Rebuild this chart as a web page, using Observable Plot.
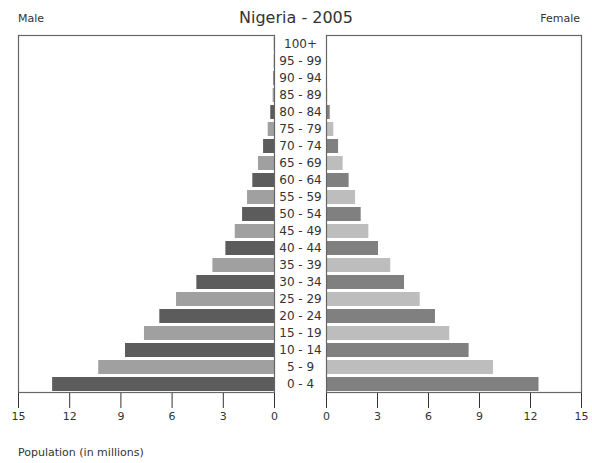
<!DOCTYPE html>
<html>
<head>
<meta charset="utf-8">
<script src="https://cdn.jsdelivr.net/npm/d3@7"></script>
<script src="https://cdn.jsdelivr.net/npm/@observablehq/plot@0.6"></script>
<style>
  body { margin: 0; background: white; font-family: "DejaVu Sans", sans-serif; color: #333; }
  #wrap { position: relative; width: 592px; height: 463px; }
  #head { position: relative; height: 30px; }
  #title { position: absolute; left: 0; width: 592px; top: 8px; text-align: center; font-size: 16px; }
  #male { position: absolute; left: 18px; top: 12px; font-size: 11px; }
  #female { position: absolute; right: 12px; top: 12px; font-size: 11px; }
  #charts { display: flex; }
  #caption { position: absolute; left: 18px; top: 446px; font-size: 11px; }
</style>
</head>
<body>
<div id="wrap">
  <div id="head">
    <div id="male">Male</div>
    <div id="title">Nigeria - 2005</div>
    <div id="female">Female</div>
  </div>
  <div id="charts"></div>
  <div id="caption">Population (in millions)</div>
</div>
<script>
const ages = ["0 - 4","5 - 9","10 - 14","15 - 19","20 - 24","25 - 29","30 - 34","35 - 39","40 - 44","45 - 49","50 - 54","55 - 59","60 - 64","65 - 69","70 - 74","75 - 79","80 - 84","85 - 89","90 - 94","95 - 99","100+"];
const male = [13.0, 10.3, 8.73, 7.62, 6.72, 5.74, 4.55, 3.61, 2.85, 2.30, 1.87, 1.58, 1.27, 0.94, 0.64, 0.37, 0.22, 0.08, 0.04, 0.02, 0.01];
const female = [12.5, 9.82, 8.39, 7.25, 6.41, 5.51, 4.59, 3.78, 3.06, 2.49, 2.04, 1.71, 1.33, 0.98, 0.71, 0.43, 0.22, 0.07, 0.04, 0.02, 0.01];
const ticks = [0, 3, 6, 9, 12, 15];

const rows = ages.map((a, i) => ({age: a, i, male: male[i], female: female[i]}));
const yDomain = ages.slice().reverse();
const H = 402;
const yScale = {domain: yDomain, range: [7, 362], paddingInner: 0.16, paddingOuter: 0};
const font = "DejaVu Sans, sans-serif";

const left = Plot.plot({
  width: 326, height: H,
  marginLeft: 18, marginRight: 52, marginTop: 5, marginBottom: 40,
  style: {fontFamily: font, fontSize: "11px", color: "#333", background: "white", overflow: "visible"},
  x: {domain: [0, 15], reverse: true, ticks: ticks, tickSize: 16, tickPadding: 4, label: null},
  y: {...yScale, axis: null},
  marks: [
    Plot.barX(rows, {y: "age", x1: 0, x2: "male", fill: d => d.i % 2 === 0 ? "#5c5c5c" : "#a0a0a0"}),
    Plot.frame({stroke: "#666", strokeWidth: 1.2}),
    Plot.text(rows, {y: "age", x: 0, dx: 26, text: "age", textAnchor: "middle", fontSize: 12, fill: "#333"})
  ]
});

const right = Plot.plot({
  width: 266, height: H,
  marginLeft: 0, marginRight: 11, marginTop: 5, marginBottom: 40,
  style: {fontFamily: font, fontSize: "11px", color: "#333", background: "white", overflow: "visible"},
  x: {domain: [0, 15], ticks: ticks, tickSize: 16, tickPadding: 4, label: null},
  y: {...yScale, axis: null},
  marks: [
    Plot.barX(rows, {y: "age", x1: 0, x2: "female", fill: d => d.i % 2 === 0 ? "#808080" : "#bdbdbd"}),
    Plot.frame({stroke: "#666", strokeWidth: 1.2})
  ]
});

document.getElementById("charts").append(left, right);
</script>
</body>
</html>
